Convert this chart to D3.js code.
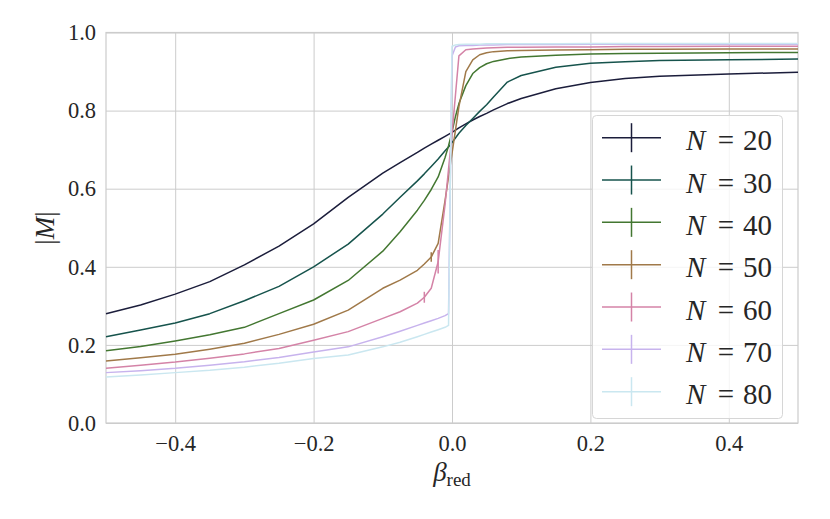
<!DOCTYPE html>
<html><head><meta charset="utf-8">
<script src="https://cdn.jsdelivr.net/npm/d3@7"></script>
<style>body{margin:0;background:#fff}</style>
</head><body><svg id="c" width="830" height="519"></svg>
<script>
const betas = [-0.5,-0.45,-0.4,-0.35,-0.3,-0.25,-0.2,-0.15,-0.1,-0.075,-0.05,-0.04,-0.03,-0.02,-0.01,-0.005,0,0.005,0.01,0.02,0.03,0.04,0.05,0.06,0.08,0.1,0.15,0.2,0.25,0.3,0.4,0.5];
const labels = ["N = 20","N = 30","N = 40","N = 50","N = 60","N = 70","N = 80"];
const sizes = [20,30,40,50,60,70,80];
const m20 = [0.280,0.302,0.330,0.362,0.405,0.453,0.510,0.578,0.640,0.667,0.693,0.704,0.714,0.724,0.734,0.739,0.744,0.750,0.756,0.766,0.776,0.785,0.793,0.802,0.818,0.831,0.856,0.872,0.882,0.888,0.894,0.898];
const m30 = [0.221,0.238,0.256,0.280,0.313,0.350,0.400,0.458,0.535,0.578,0.620,0.638,0.657,0.676,0.697,0.707,0.718,0.730,0.742,0.762,0.780,0.798,0.815,0.835,0.873,0.890,0.911,0.921,0.925,0.928,0.930,0.932];
const m40 = [0.185,0.196,0.210,0.226,0.245,0.280,0.315,0.365,0.440,0.490,0.545,0.570,0.598,0.630,0.680,0.710,0.745,0.785,0.818,0.864,0.895,0.910,0.920,0.926,0.933,0.937,0.942,0.945,0.946,0.947,0.948,0.949];
const m50 = [0.159,0.167,0.176,0.189,0.204,0.227,0.253,0.289,0.345,0.366,0.391,0.407,0.425,0.460,0.570,0.630,0.690,0.750,0.810,0.900,0.930,0.943,0.948,0.951,0.953,0.954,0.955,0.956,0.957,0.957,0.958,0.958];
const m60 = [0.140,0.148,0.156,0.166,0.177,0.191,0.212,0.234,0.268,0.285,0.307,0.322,0.345,0.413,0.560,0.650,0.740,0.840,0.940,0.956,0.958,0.959,0.960,0.961,0.962,0.962,0.963,0.963,0.964,0.964,0.965,0.965];
const m70 = [0.129,0.134,0.140,0.148,0.157,0.168,0.182,0.195,0.221,0.235,0.250,0.256,0.262,0.268,0.275,0.280,0.940,0.963,0.966,0.967,0.967,0.968,0.968,0.968,0.969,0.969,0.969,0.970,0.970,0.970,0.970,0.970];
const m80 = [0.118,0.123,0.129,0.135,0.143,0.153,0.165,0.174,0.195,0.207,0.221,0.227,0.233,0.239,0.245,0.250,0.965,0.968,0.969,0.970,0.970,0.970,0.971,0.971,0.971,0.971,0.971,0.972,0.972,0.972,0.972,0.972];
const series = [m20,m30,m40,m50,m60,m70,m80];
const colors = ["#1b1d3b","#16534c","#437731","#a07949","#d483a7","#c7b3ed","#cae7f0"];
// visible error bars: series index, beta, half-width
const errSeries = [3,4,4];
const errBeta = [-0.03,-0.04,-0.02];
const errVal = [0.012,0.014,0.03];
const xTicks = [-0.4,-0.2,0,0.2,0.4];
const yTicks = [0,0.2,0.4,0.6,0.8,1.0];

const FONT = '"Liberation Serif","DejaVu Serif",serif';
const svg = d3.select("#c");
const L=106, R=798, T=32.5, B=423;
const x = d3.scaleLinear().domain([-0.5,0.5]).range([L,R]);
const y = d3.scaleLinear().domain([0,1]).range([B,T]);
const fmt = v => (v<0?"\u2212":"")+Math.abs(v).toFixed(1);

// grid
const gx = svg.append("g").attr("transform",`translate(0,${B})`)
  .call(d3.axisBottom(x).tickValues(xTicks).tickSize(-(B-T)).tickFormat(fmt).tickPadding(12));
const gy = svg.append("g").attr("transform",`translate(${L},0)`)
  .call(d3.axisLeft(y).tickValues(yTicks).tickSize(-(R-L)).tickFormat(fmt).tickPadding(10));
[gx,gy].forEach(g=>{
  g.attr("font-family",null).attr("font-size",null);
  g.select(".domain").remove();
  g.selectAll(".tick line").attr("stroke","#cccccc").attr("stroke-width",1);
  g.selectAll(".tick text").style("font-family",FONT).style("font-size","22.5px").attr("fill","#262626");
});
gx.selectAll(".tick text").attr("dy","0.71em");
svg.append("rect").attr("x",L).attr("y",T).attr("width",R-L).attr("height",B-T)
  .attr("fill","none").attr("stroke","#cccccc").attr("stroke-width",1.2);

// lines
const line = d3.line().x((d,i)=>x(betas[i])).y(d=>y(d));
series.forEach((s,k)=>{
  svg.append("path").datum(s).attr("d",line).attr("fill","none")
    .attr("stroke",colors[k]).attr("stroke-width",1.5).attr("stroke-linejoin","round");
});
errSeries.forEach((k,j)=>{
  const i = betas.indexOf(errBeta[j]);
  const v = series[k][i];
  svg.append("line").attr("x1",x(errBeta[j])).attr("x2",x(errBeta[j]))
    .attr("y1",y(v-errVal[j])).attr("y2",y(v+errVal[j]))
    .attr("stroke",colors[k]).attr("stroke-width",1.5);
});

// legend
const lg = svg.append("g");
lg.append("rect").attr("x",592.5).attr("y",115.5).attr("width",190).attr("height",303).attr("rx",4)
  .attr("fill","#fff").attr("fill-opacity",0.8).attr("stroke","#d6d6d6").attr("stroke-width",1);
const T_ = (sel)=>sel.style("font-family",FONT).attr("fill","#262626");
labels.forEach((lab,k)=>{
  const yy = 137.7 + k*42.33;
  lg.append("line").attr("x1",602).attr("x2",661).attr("y1",yy).attr("y2",yy).attr("stroke",colors[k]).attr("stroke-width",1.5);
  lg.append("line").attr("x1",631.5).attr("x2",631.5).attr("y1",yy-14.5).attr("y2",yy+14.5).attr("stroke",colors[k]).attr("stroke-width",1.5);
  T_(lg.append("text").attr("x",686).attr("y",yy+12.5).style("font-size","29px").attr("font-style","italic").text("N"));
  T_(lg.append("text").attr("x",726).attr("y",yy+12.5).style("font-size","29px").attr("text-anchor","middle").text("="));
  T_(lg.append("text").attr("x",772).attr("y",yy+12.5).style("font-size","29px").attr("text-anchor","end").text(String(sizes[k])));
});

// axis labels
const yl = T_(svg.append("text").attr("transform","translate(54,228) rotate(-90)").attr("text-anchor","middle").style("font-size","27px"));
yl.append("tspan").text("|");
yl.append("tspan").attr("font-style","italic").text("M");
yl.append("tspan").text("|");
const xl = T_(svg.append("text").attr("x",452).attr("y",481).attr("text-anchor","middle").style("font-size","27px"));
xl.append("tspan").attr("font-style","italic").text("\u03B2");
xl.append("tspan").style("font-size","19px").attr("dy",5).text("red");
</script></body></html>
